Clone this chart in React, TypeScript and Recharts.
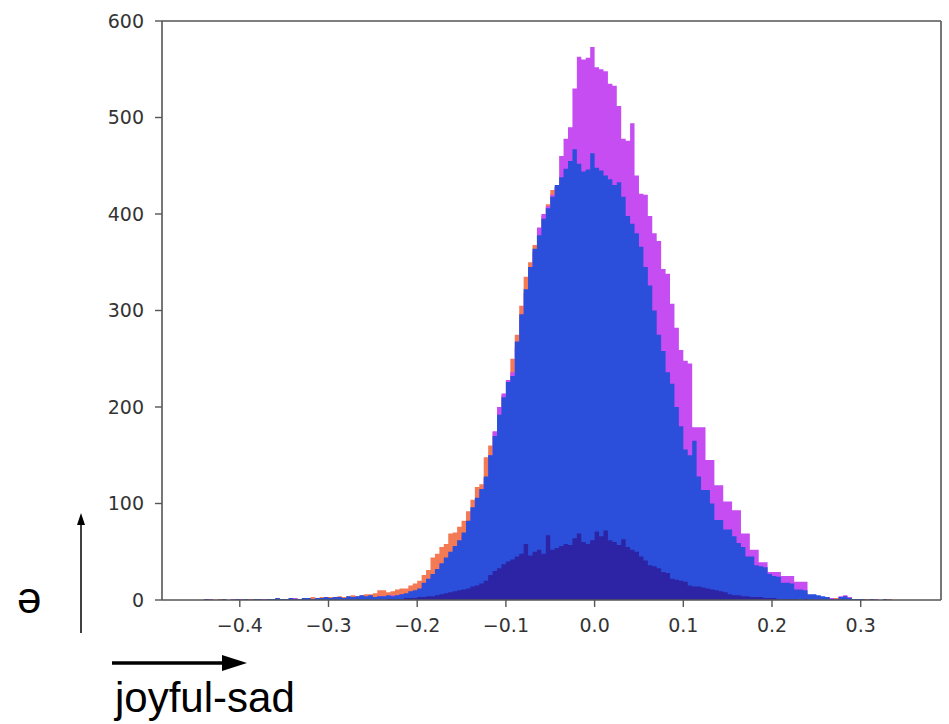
import { ComposedChart, Area, XAxis, YAxis, ReferenceLine } from 'recharts';

// histogram bins: left edges start at -0.45, width 0.005
const BIN_START = -0.45;
const BIN_WIDTH = 0.005;

const orangeCounts = [
  0, 0, 1, 0, 0, 1, 0, 0, 1, 0,
  1, 0, 1, 1, 0, 1, 1, 1, 2, 1,
  1, 2, 2, 1, 2, 2, 3, 2, 3, 3,
  3, 3, 4, 3, 4, 5, 4, 5, 6, 6,
  7, 10, 10, 8, 9, 11, 12, 12, 15, 17,
  20, 26, 31, 44, 48, 55, 58, 69, 70, 76,
  82, 92, 104, 117, 120, 148, 160, 174, 196, 212,
  228, 250, 275, 305, 335, 350, 368, 382, 398, 410,
  425, 428, 430, 435, 440, 442, 440, 438, 435, 430,
  425, 420, 412, 405, 398, 390, 380, 370, 360, 350,
  338, 325, 310, 298, 282, 268, 252, 238, 222, 208,
  194, 180, 166, 152, 140, 128, 116, 105, 95, 86,
  78, 70, 62, 55, 49, 43, 38, 33, 29, 25,
  22, 19, 16, 14, 12, 10, 8, 7, 4, 3,
  4, 3, 3, 2, 2, 3, 4, 2, 1, 1,
  1, 1, 0, 1, 0, 0, 1, 0, 0, 0,
  0, 0,
];

const magentaCounts = [
  0, 0, 0, 1, 0, 0, 0, 0, 1, 0,
  1, 0, 0, 1, 0, 1, 0, 1, 1, 0,
  1, 1, 2, 1, 1, 2, 1, 1, 2, 2,
  2, 2, 3, 2, 3, 3, 3, 4, 3, 4,
  3, 4, 4, 4, 5, 5, 6, 6, 7, 8,
  10, 15, 19, 24, 29, 35, 41, 47, 53, 59,
  66, 78, 92, 103, 113, 126, 150, 175, 200, 214,
  228, 236, 262, 290, 318, 345, 360, 386, 400, 408,
  420, 428, 460, 478, 490, 530, 563, 560, 562, 573,
  552, 550, 548, 535, 533, 512, 478, 476, 494, 440,
  421, 420, 398, 380, 372, 343, 338, 307, 282, 259,
  248, 245, 179, 179, 179, 145, 145, 119, 119, 102,
  102, 93, 93, 69, 69, 52, 52, 39, 39, 29,
  29, 29, 25, 25, 25, 19, 19, 19, 3, 2,
  2, 2, 1, 2, 1, 4, 5, 3, 1, 1,
  1, 0, 0, 1, 0, 0, 0, 0, 0, 0,
  0, 0,
];

const blueCounts = [
  0, 0, 1, 0, 0, 0, 1, 0, 0, 1,
  0, 1, 0, 1, 1, 0, 1, 1, 2, 1,
  1, 2, 1, 1, 2, 2, 1, 2, 2, 3,
  2, 3, 3, 2, 4, 3, 4, 5, 4, 5,
  3, 4, 4, 5, 4, 5, 6, 7, 9, 10,
  12, 18, 22, 27, 32, 38, 44, 50, 56, 62,
  70, 82, 96, 106, 115, 128, 150, 170, 192, 210,
  226, 232, 268, 296, 322, 345, 364, 378, 395, 406,
  418, 430, 438, 447, 455, 467, 452, 444, 446, 463,
  448, 445, 440, 436, 430, 433, 418, 398, 390, 380,
  366, 345, 326, 300, 275, 258, 236, 224, 200, 180,
  156, 150, 165, 128, 114, 114, 100, 83, 83, 73,
  73, 66, 59, 55, 45, 45, 36, 35, 34, 27,
  25, 24, 18, 18, 17, 11, 11, 10, 6, 6,
  5, 4, 3, 1, 1, 3, 4, 2, 1, 1,
  1, 0, 1, 0, 0, 1, 0, 0, 0, 0,
  0, 0,
];

const navyCounts = [
  0, 0, 0, 0, 0, 0, 0, 0, 0, 0,
  0, 0, 0, 0, 0, 0, 0, 0, 0, 0,
  0, 0, 0, 0, 0, 0, 0, 0, 0, 0,
  0, 0, 0, 0, 0, 0, 0, 0, 0, 0,
  0, 0, 0, 1, 1, 1, 1, 2, 2, 2,
  3, 3, 4, 4, 5, 6, 7, 8, 9, 10,
  11, 12, 14, 15, 17, 20, 26, 30, 33, 37,
  40, 42, 45, 48, 58, 46, 50, 52, 48, 67,
  52, 54, 56, 58, 57, 64, 69, 60, 58, 62,
  71, 66, 72, 62, 60, 57, 63, 55, 52, 50,
  45, 41, 36, 35, 33, 29, 28, 22, 21, 20,
  19, 15, 14, 14, 13, 12, 11, 10, 9, 8,
  6, 5, 5, 4, 4, 3, 3, 3, 2, 2,
  2, 1, 1, 1, 1, 1, 0, 1, 0, 0,
  0, 0, 0, 0, 0, 0, 0, 0, 0, 0,
  0, 0, 0, 0, 0, 0, 0, 0, 0, 0,
  0, 0,
];

const xTicks = [-0.4, -0.3, -0.2, -0.1, 0, 0.1, 0.2, 0.3];
const yTicks = [0, 100, 200, 300, 400, 500, 600];
const X_DOMAIN: [number, number] = [-0.4877, 0.3905];

const rows = orangeCounts.map((_, i) => ({
  x: +(BIN_START + i * BIN_WIDTH).toFixed(3),
  orange: orangeCounts[i],
  magenta: magentaCounts[i],
  blue: blueCounts[i],
  navy: navyCounts[i],
}));
// closing edge so the last step has a right side
rows.push({ x: +(BIN_START + orangeCounts.length * BIN_WIDTH).toFixed(3), orange: 0, magenta: 0, blue: 0, navy: 0 });

const fmtX = (v: number) => (v < 0 ? '\u2212' + Math.abs(v).toFixed(1) : v.toFixed(1));

const tickStyle = { fontFamily: 'DejaVu Sans, sans-serif', fontSize: 19, fill: '#333' };
const spine = '#555';

export default function App() {
  return (
    <div style={{ position: 'absolute', left: 0, top: 0, width: 949, height: 724, background: '#fff' }}>
      <ComposedChart width={949} height={724} data={rows} margin={{ top: 21, right: 8, left: 102, bottom: 84 }}>
        <XAxis
          dataKey="x"
          type="number"
          domain={X_DOMAIN}
          allowDataOverflow
          ticks={xTicks}
          tickFormatter={fmtX}
          tick={tickStyle}
          tickSize={7}
          tickMargin={12}
          height={40}
          axisLine={{ stroke: spine, strokeWidth: 1.6 }}
          tickLine={{ stroke: spine, strokeWidth: 1.4 }}
        />
        <YAxis
          type="number"
          domain={[0, 600]}
          ticks={yTicks}
          tick={tickStyle}
          tickSize={7}
          tickMargin={11}
          width={60}
          axisLine={{ stroke: spine, strokeWidth: 1.6 }}
          tickLine={{ stroke: spine, strokeWidth: 1.4 }}
        />
        <Area type="stepAfter" dataKey="orange" fill="#f47a55" fillOpacity={1} stroke="none" isAnimationActive={false} />
        <Area type="stepAfter" dataKey="magenta" fill="#c64df2" fillOpacity={1} stroke="none" isAnimationActive={false} />
        <Area type="stepAfter" dataKey="blue" fill="#2b4fda" fillOpacity={1} stroke="none" isAnimationActive={false} />
        <Area type="stepAfter" dataKey="navy" fill="#2c24a4" fillOpacity={1} stroke="none" isAnimationActive={false} />
        <ReferenceLine y={600} stroke={spine} strokeWidth={1.6} />
        <ReferenceLine x={X_DOMAIN[1]} stroke={spine} strokeWidth={1.6} />
      </ComposedChart>
      <svg width={949} height={724} style={{ position: 'absolute', left: 0, top: 0, pointerEvents: 'none' }}>
        <text x={17} y={613} fontSize={44} fontFamily="Liberation Sans, Arial, DejaVu Sans, sans-serif" fill="#000">
          ə
        </text>
        <line x1={81} y1={633} x2={81} y2={522} stroke="#000" strokeWidth={1.5} />
        <polygon points="81,513 77,525 85,525" fill="#000" />
        <line x1={112} y1={663} x2={226} y2={663} stroke="#000" strokeWidth={3.5} />
        <polygon points="247,663 222,655 222,671" fill="#000" />
        <text x={115} y={712} fontSize={42} fontFamily="Liberation Sans, Arial, sans-serif" fill="#000">
          joyful-sad
        </text>
      </svg>
    </div>
  );
}
